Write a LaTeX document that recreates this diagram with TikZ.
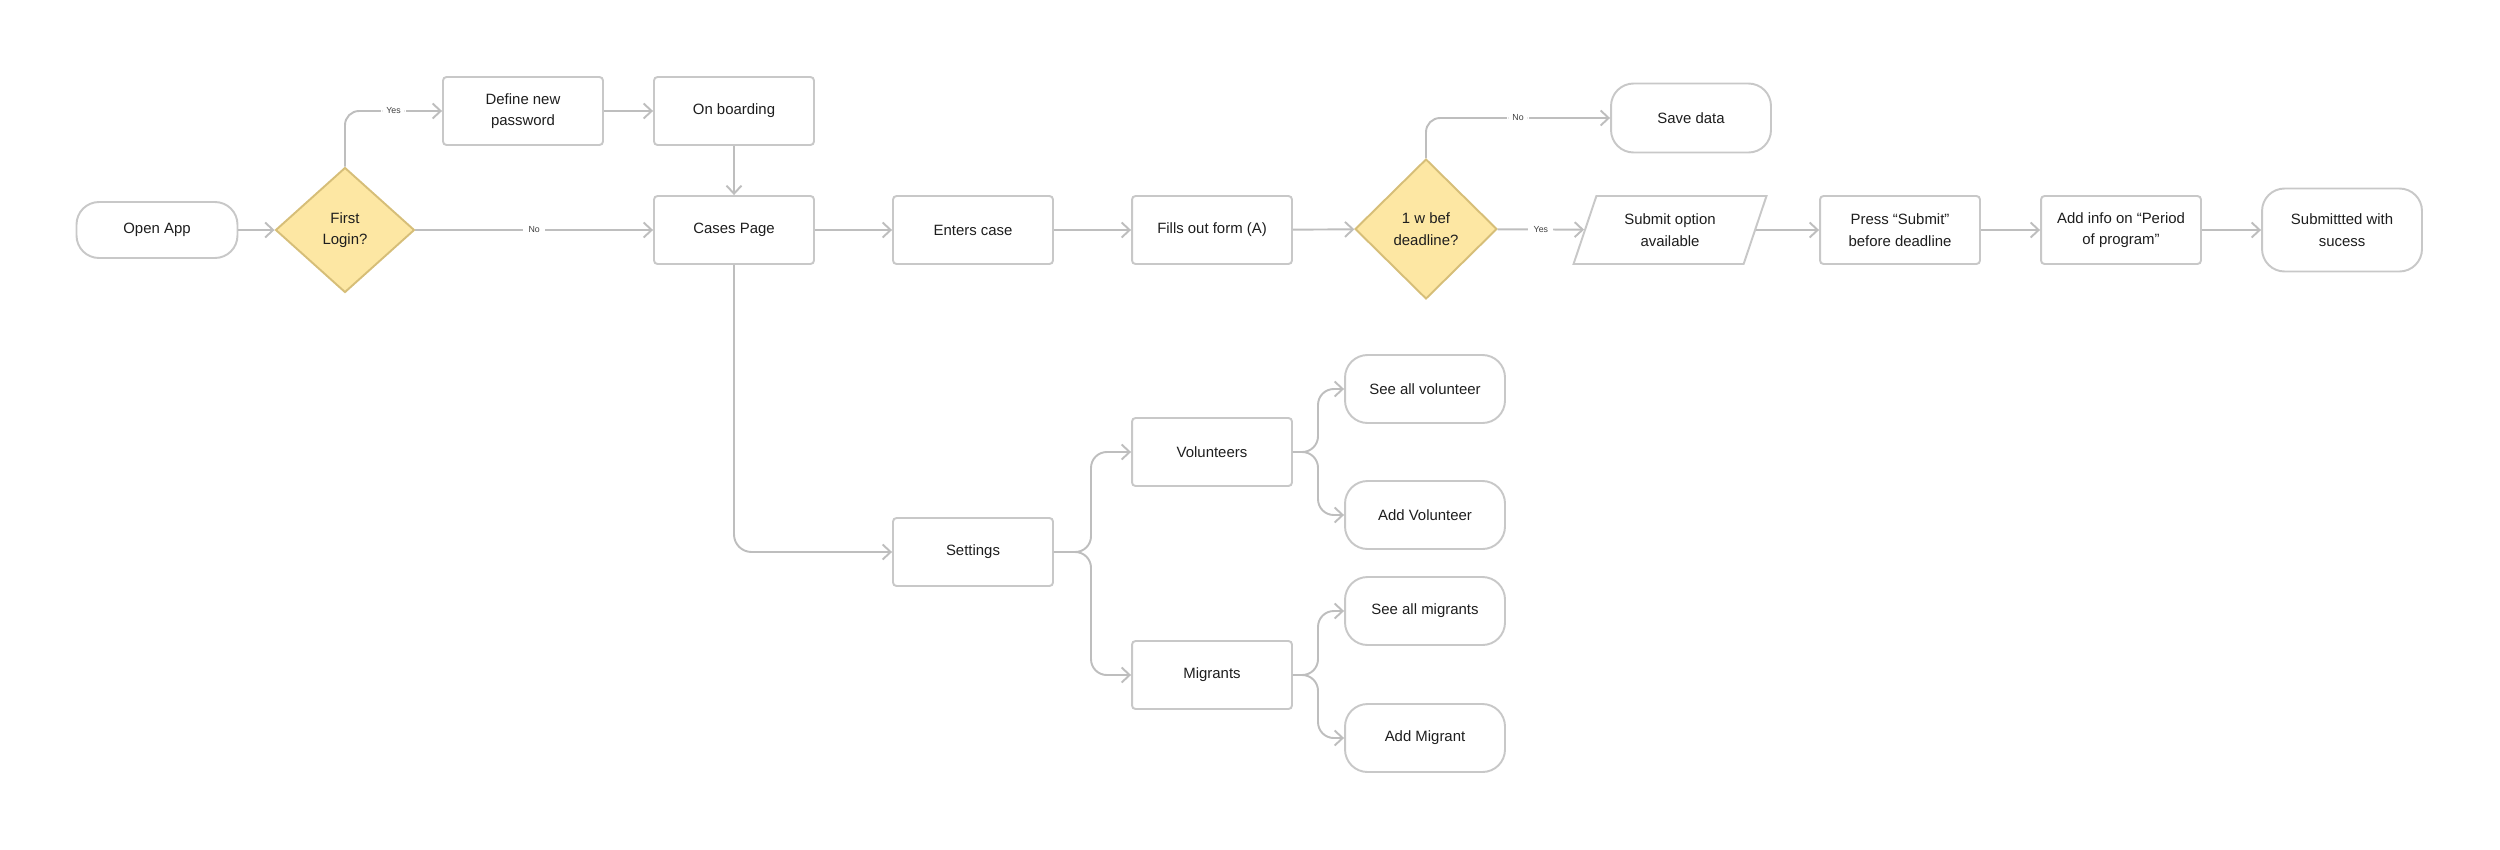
\documentclass[tikz,border=0pt]{standalone}
\usepackage{fontspec}
\setmainfont{Liberation Sans}
\usepackage{tikz}
\usetikzlibrary{arrows.meta,shapes.geometric,calc}
\usepackage{xcolor}
\definecolor{ink}{RGB}{30,30,30}
\definecolor{rim}{RGB}{200,200,200}
\definecolor{wire}{RGB}{190,190,190}
\definecolor{decF}{RGB}{253,231,163}
\definecolor{decD}{RGB}{214,190,120}
\tikzset{
  proc/.style={draw=rim,line width=1.1pt,rounded corners=2pt,fill=white,inner sep=2pt,
    minimum width=3.2cm,minimum height=1.36cm,
    font=\fontsize{8.5}{12.3}\selectfont,text=ink,align=center},
  term/.style={proc,rounded corners=0.45cm},
  dec/.style={diamond,draw=decD,fill=decF,line width=1.1pt,inner sep=0pt,
    font=\fontsize{8.5}{12.3}\selectfont,text=ink,align=center},
  io/.style={trapezium,trapezium left angle=60,trapezium right angle=120,
    trapezium stretches body,draw=rim,line width=1.1pt,fill=white,inner sep=2pt,
    minimum width=3.86cm,minimum height=1.36cm,
    font=\fontsize{8.5}{12.3}\selectfont,text=ink,align=center},
  arr/.style={-{Straight Barb[length=1.6mm,width=3mm]},draw=wire,line width=1.1pt},
  lbl/.style={font=\fontsize{5}{6}\selectfont,text=ink!85,fill=white,inner sep=3pt},
}

\begin{document}
\begin{tikzpicture}[x=0.02cm,y=-0.02cm]
  \useasboundingbox (0,0) rectangle (2500,849);
  % main row
  \node[term,minimum width=3.22cm,minimum height=1.12cm] (open) at (157,230) {Open App};
  \node[dec,minimum width=2.78cm,minimum height=2.5cm] (d1) at (345,230) {First\\Login?};
  \node[proc] (defpw) at (523,111) {Define new\\password};
  \node[proc] (onb) at (734,111) {On boarding};
  \node[proc] (cases) at (734,230) {Cases Page};
  \node[proc] (enters) at (973,230) {Enters case};
  \node[proc] (fills) at (1212,230) {Fills out form (A)};
  \node[dec,minimum width=2.84cm,minimum height=2.8cm] (d2) at (1426,229) {1 w bef\\deadline?};
  \node[term,minimum height=1.38cm] (save) at (1691,118) {Save data};
  \node[io] (sub) at (1670,230) {Submit option\\available};
  \node[proc] (press) at (1900,230) {Press “Submit”\\before deadline};
  \node[proc] (addinfo) at (2121,230) {Add info on “Period\\of program”};
  \node[term,minimum height=1.66cm] (done) at (2342,230) {Submittted with\\sucess};
  % settings tree
  \node[proc] (settings) at (973,552) {Settings};
  \node[proc] (vol) at (1212,452) {Volunteers};
  \node[proc] (mig) at (1212,675) {Migrants};
  \node[term] (seevol) at (1425,389) {See all volunteer};
  \node[term] (addvol) at (1425,515) {Add Volunteer};
  \node[term] (seemig) at (1425,611) {See all migrants};
  \node[term] (addmig) at (1425,738) {Add Migrant};
  \coordinate (sbus) at (1091,552);
  \coordinate (vbus) at (1318,452);
  \coordinate (mbus) at (1318,675);

  \draw[arr] (open) -- (d1);
  \draw[arr,rounded corners=8pt] (d1.north) |- node[lbl,pos=0.75]{Yes} (defpw);
  \draw[arr] (d1) -- node[lbl]{No} (cases);
  \draw[arr] (defpw) -- (onb);
  \draw[arr] (onb) -- (cases);
  \draw[arr] (cases) -- (enters);
  \draw[arr] (enters) -- (fills);
  \draw[arr] (fills) -- (d2);
  \draw[arr,rounded corners=8pt] (d2.north) |- node[lbl,pos=0.75]{No} (save);
  \draw[arr] (d2) -- node[lbl]{Yes} (sub);
  \draw[arr] (sub) -- (press);
  \draw[arr] (press) -- (addinfo);
  \draw[arr] (addinfo) -- (done);
  \draw[arr,rounded corners=10pt] (cases.south) |- (settings);
  \foreach \kid in {vol,mig}
    \draw[arr,rounded corners=9pt] (settings) -- (sbus) |- (\kid);
  \foreach \kid in {seevol,addvol}
    \draw[arr,rounded corners=9pt] (vol) -- (vbus) |- (\kid);
  \foreach \kid in {seemig,addmig}
    \draw[arr,rounded corners=9pt] (mig) -- (mbus) |- (\kid);
\end{tikzpicture}
\end{document}
